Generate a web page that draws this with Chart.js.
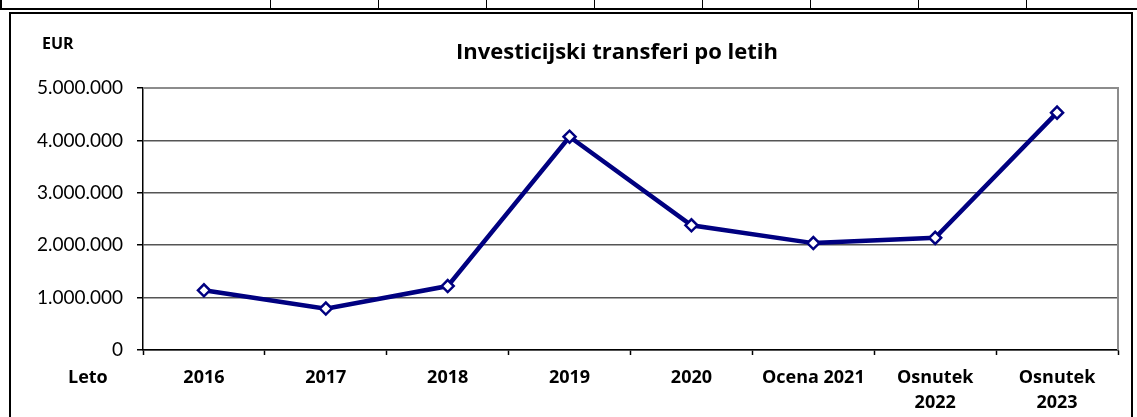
<!DOCTYPE html>
<html>
<head>
<meta charset="utf-8">
<script src="https://cdn.jsdelivr.net/npm/chart.js@4.4.0/dist/chart.umd.min.js"></script>
<style>
    body { margin: 0; width: 1137px; height: 417px; overflow: hidden; background: #fff; position: relative; }
    #strip { position: absolute; left: 0; top: 0; width: 1135px; height: 8px; border-left: 2px solid #000; border-bottom: 2px solid #000; }
    .vline { position: absolute; top: 0; width: 1px; height: 8px; background: #000; }
    #box { position: absolute; left: 9px; top: 12px; width: 1120px; height: 420px; border: 2px solid #000; }
    #wrap { position: absolute; left: 0; top: 0; width: 1137px; height: 417px; }
</style>
</head>
<body>
<div id="strip">
    <div class="vline" style="left:268px"></div>
    <div class="vline" style="left:376px"></div>
    <div class="vline" style="left:484px"></div>
    <div class="vline" style="left:592px"></div>
    <div class="vline" style="left:700px"></div>
    <div class="vline" style="left:808px"></div>
    <div class="vline" style="left:916px"></div>
    <div class="vline" style="left:1024px"></div>
</div>
<div id="box"></div>
<div id="wrap"><canvas id="chart" width="1137" height="417"></canvas></div>
<script>
// data
const years = ['2016', '2017', '2018', '2019', '2020', 'Ocena 2021', ['Osnutek', '2022'], ['Osnutek', '2023']];
const transfers = [1140000, 790000, 1220000, 4070000, 2380000, 2040000, 2140000, 4530000];
const yMin = 0;
const yMax = 5000000;
const yStep = 1000000;

const chartTitle = 'Investicijski transferi po letih';
const unitLabel = 'EUR';
const axisLabel = 'Leto';

const FONT = 'Lato, "Open Sans", sans-serif';
const BOLD_FONT = '"Open Sans", Lato, sans-serif';

function formatEur(v) {
    return String(v).replace(/\B(?=(\d{3})+(?!\d))/g, '.');
}

// extra texts and plot frame, excel style
const decorations = {
    id: 'decorations',
    beforeDatasetsDraw(chart) {
        const { ctx, chartArea } = chart;
        ctx.save();
        ctx.strokeStyle = '#8c8c8c';
        ctx.lineWidth = 2;
        ctx.beginPath();
        ctx.moveTo(chartArea.left, chartArea.top);
        ctx.lineTo(chartArea.right, chartArea.top);
        ctx.lineTo(chartArea.right, chartArea.bottom);
        ctx.stroke();
        ctx.restore();
    },
    afterDraw(chart) {
        const { ctx } = chart;
        ctx.save();
        ctx.fillStyle = '#000';
        ctx.textBaseline = 'middle';

        ctx.font = 'bold 22px ' + BOLD_FONT;
        ctx.textAlign = 'center';
        ctx.fillText(chartTitle, 617, 53);

        ctx.font = 'bold 16px ' + BOLD_FONT;
        ctx.textAlign = 'left';
        ctx.fillText(unitLabel, 42, 44);

        ctx.font = 'bold 18px ' + BOLD_FONT;
        ctx.fillText(axisLabel, 68, 378);
        ctx.restore();
    }
};

const config = {
    type: 'line',
    data: {
        labels: years,
        datasets: [{
            label: chartTitle,
            data: transfers,
            borderColor: '#000080',
            borderWidth: 4.5,
            fill: false,
            tension: 0,
            pointStyle: 'rectRot',
            pointRadius: 6,
            pointBorderWidth: 2.5,
            pointBackgroundColor: '#ffffff',
            pointBorderColor: '#000080'
        }]
    },
    options: {
        responsive: false,
        animation: false,
        layout: { padding: { top: 88, right: 19, left: 0, bottom: 0 } },
        plugins: {
            legend: { display: false },
            title: { display: false },
            tooltip: { enabled: false }
        },
        scales: {
            x: {
                offset: true,
                grid: {
                    offset: true,
                    drawOnChartArea: false,
                    drawTicks: true,
                    tickLength: 5,
                    tickColor: '#000',
                    tickWidth: 1.5
                },
                border: { color: '#000', width: 1.5 },
                ticks: {
                    color: '#000',
                    padding: 10,
                    maxRotation: 0,
                    autoSkip: false,
                    font: { family: BOLD_FONT, size: 18, weight: 'bold', lineHeight: 1.39 }
                },
                afterFit(scale) { scale.height = 67; }
            },
            y: {
                min: yMin,
                max: yMax,
                grid: {
                    color: '#555',
                    lineWidth: 1.5,
                    tickLength: 6,
                    tickColor: '#000',
                    tickWidth: 1.5
                },
                border: { color: '#000', width: 1.5 },
                ticks: {
                    stepSize: yStep,
                    color: '#000',
                    padding: 14,
                    font: { family: FONT, size: 19 },
                    callback: v => formatEur(v)
                },
                afterFit(scale) { scale.width = 143; }
            }
        }
    },
    plugins: [decorations]
};

new Chart(document.getElementById('chart').getContext('2d'), config);
</script>
</body>
</html>
